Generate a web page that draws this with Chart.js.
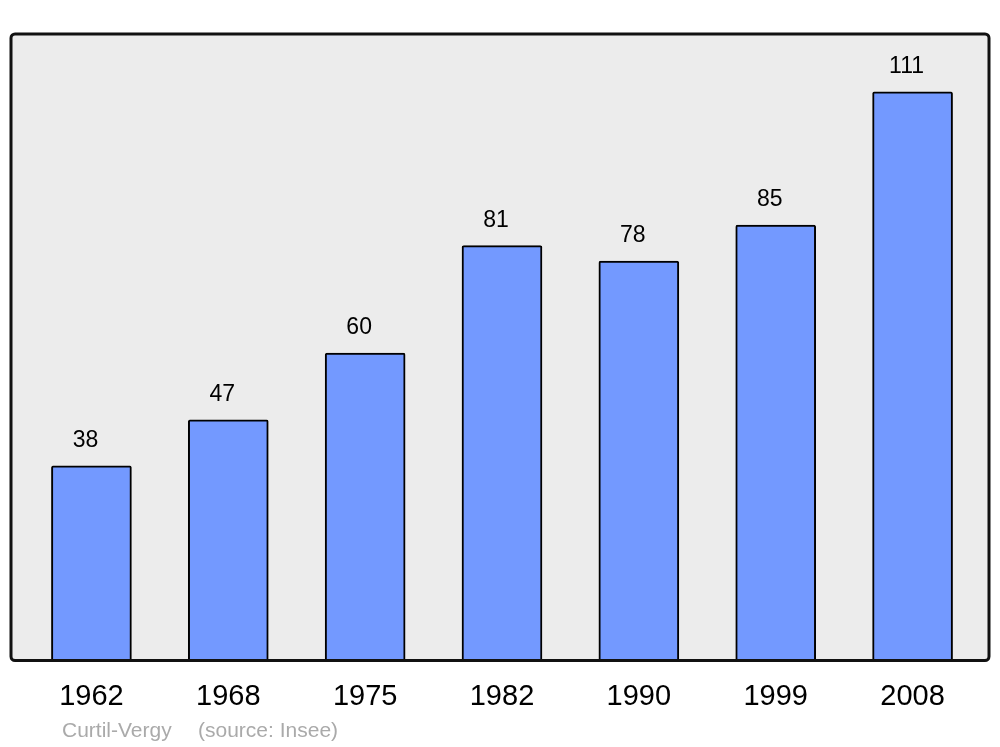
<!DOCTYPE html>
<html>
<head>
<meta charset="utf-8">
<script src="https://cdn.jsdelivr.net/npm/chart.js@4"></script>
<style>
  html, body { margin: 0; padding: 0; background: #fff; }
  #wrap { width: 1000px; height: 747px; }
</style>
</head>
<body>
<div id="wrap"><canvas id="popChart" width="1000" height="747"></canvas></div>
<script>
// ── Data ────────────────────────────────────────────────────────────────
const YEARS = ['1962', '1968', '1975', '1982', '1990', '1999', '2008'];
const POPULATION = [38, 47, 60, 81, 78, 85, 111];
const TOWN = 'Curtil-Vergy';
const SOURCE = '(source: Insee)';

const FONT = '"Liberation Sans", Arial, sans-serif';

// Grey rounded frame behind the bars (stroke drawn on top)
const framePlugin = {
    id: 'frame',
    frameRect(chart) {
        const a = chart.chartArea;
        return { x: a.left - 12, y: a.top, w: a.right - a.left + 20, h: a.bottom - a.top };
    },
    beforeDatasetsDraw(chart) {
        const ctx = chart.ctx;
        const r = this.frameRect(chart);
        ctx.save();
        ctx.beginPath();
        ctx.roundRect(r.x, r.y, r.w, r.h, 4);
        ctx.fillStyle = '#ececec';
        ctx.fill();
        ctx.restore();
    },
    afterDatasetsDraw(chart) {
        const ctx = chart.ctx;
        const r = this.frameRect(chart);
        ctx.save();
        ctx.beginPath();
        ctx.roundRect(r.x, r.y, r.w, r.h, 4);
        ctx.lineWidth = 3;
        ctx.strokeStyle = '#111';
        ctx.stroke();

        // value labels above bars
        ctx.font = '23px ' + FONT;
        ctx.fillStyle = '#000';
        ctx.textAlign = 'center';
        ctx.textBaseline = 'alphabetic';
        chart.getDatasetMeta(0).data.forEach((bar, i) => {
            ctx.fillText(String(POPULATION[i]), bar.x - 6, bar.y - 19);
        });

        // footer
        ctx.font = '21px ' + FONT;
        ctx.fillStyle = '#aaaaaa';
        ctx.textAlign = 'left';
        ctx.fillText(TOWN, 62, 737);
        ctx.fillText(SOURCE, 198, 737);
        ctx.restore();
    }
};

new Chart(document.getElementById('popChart'), {
    type: 'bar',
    data: {
        labels: YEARS,
        datasets: [{
            data: POPULATION,
            backgroundColor: '#7399ff',
            borderColor: '#000',
            borderWidth: 2,
            borderRadius: 2,
            borderSkipped: 'start',
            barThickness: 80,
        }]
    },
    options: {
        responsive: false,
        animation: false,
        devicePixelRatio: 1,
        layout: { padding: { left: 23, right: 19, top: 34, bottom: 13.6 } },
        plugins: {
            legend: { display: false },
            tooltip: { enabled: false },
        },
        scales: {
            x: {
                grid: { display: false, drawTicks: false },
                border: { display: false },
                ticks: {
                    color: '#000',
                    padding: 19,
                    font: { family: FONT, size: 29 },
                    maxRotation: 0,
                }
            },
            y: {
                display: false,
                min: 0,
                max: 122.3,
            }
        }
    },
    plugins: [framePlugin]
});
</script>
</body>
</html>
